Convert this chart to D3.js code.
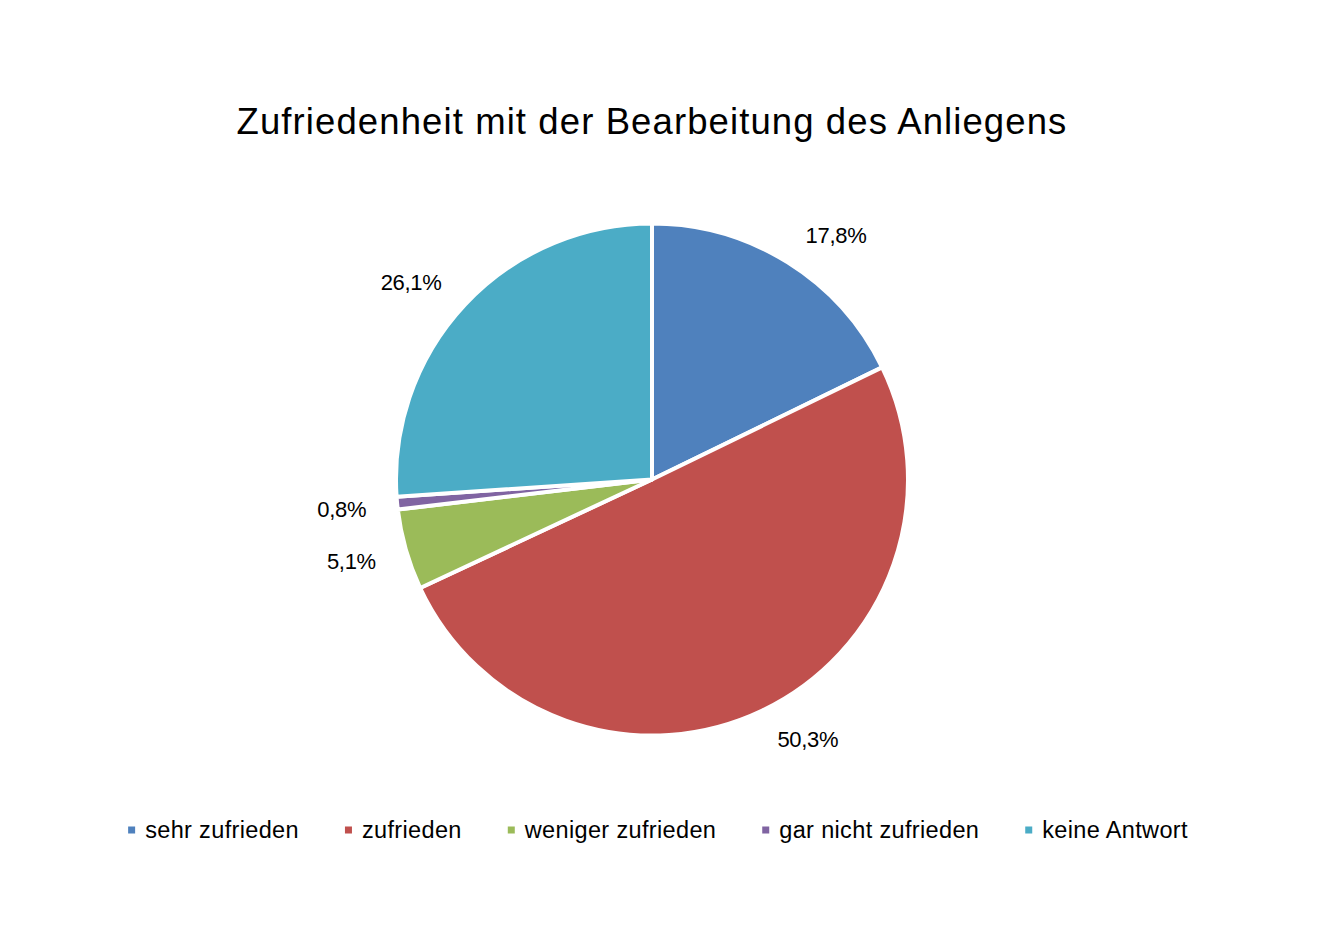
<!DOCTYPE html>
<html>
<head>
<meta charset="utf-8">
<script src="https://cdn.jsdelivr.net/npm/d3@7"></script>
<style>
  body { margin: 0; background: #fff; }
  text { font-family: "Liberation Sans", Arial, sans-serif; fill: #000; }
</style>
</head>
<body>
<div id="chart"></div>
<script>
// chart data
var categories = ['sehr zufrieden', 'zufrieden', 'weniger zufrieden', 'gar nicht zufrieden', 'keine Antwort'];
var shares     = [17.8, 50.3, 5.1, 0.8, 26.1];
var labels     = ['17,8%', '50,3%', '5,1%', '0,8%', '26,1%'];
var colors     = ['#4F81BD', '#C0504D', '#9BBB59', '#8064A2', '#4BACC6'];
var title      = 'Zufriedenheit mit der Bearbeitung des Anliegens';

function generate_pie() {
	var width = 1339, height = 935;
	var cx = 652, cy = 479.5, radius = 256;
	var labelRadius = 284;

	var svg = d3.select('#chart').append('svg')
		.attr('width', width)
		.attr('height', height);

	svg.append('text')
		.attr('x', 652)
		.attr('y', 134)
		.attr('text-anchor', 'middle')
		.style('font-size', '36.5px')
		.style('letter-spacing', '1.1px')
		.text(title);

	var rows = categories.map(function(c, i) {
		return { name: c, value: shares[i], label: labels[i], color: colors[i] };
	});

	var pie = d3.pie()
		.sort(null)
		.value(function(d) { return d.value; });

	var arc = d3.arc().innerRadius(0).outerRadius(radius);
	var labelArc = d3.arc().innerRadius(labelRadius).outerRadius(labelRadius);

	var g = svg.append('g').attr('transform', 'translate(' + cx + ',' + cy + ')');

	g.selectAll('.slice')
		.data(pie(rows))
		.enter()
		.append('path')
			.attr('class', 'slice')
			.attr('d', arc)
			.style('fill', function(d) { return d.data.color; })
			.style('stroke', '#fff')
			.style('stroke-width', '4px')
			.style('stroke-linejoin', 'round');

	// outside-end labels: the box corner nearest the pie sits near the label circle
	g.selectAll('.lbl')
		.data(pie(rows))
		.enter()
		.append('text')
			.attr('class', 'lbl')
			.attr('text-anchor', 'middle')
			.attr('dy', '0.36em')
			.style('font-size', '22px')
			.style('letter-spacing', '-0.3px')
			.text(function(d) { return d.data.label; })
			.attr('transform', function(d) {
				var p = labelArc.centroid(d);
				var bb = this.getBBox();
				var mid = (d.startAngle + d.endAngle) / 2;
				var sx = Math.sin(mid), sy = -Math.cos(mid);
				var ox = Math.abs(sx) < 0.05 ? 0 : (sx > 0 ? 1 : -1) * (bb.width / 2 + 3);
				var oy = Math.abs(sy) < 0.05 ? 0 : (sy > 0 ? 1 : -1) * bb.height / 2 * 0.3;
				return 'translate(' + (p[0] + ox) + ',' + (p[1] + oy) + ')';
			});

	// legend, laid out from measured text widths
	var legend = svg.append('g');
	var items = legend.selectAll('.item')
		.data(rows)
		.enter()
		.append('g')
			.attr('class', 'item');

	items.append('rect')
		.attr('width', 7)
		.attr('height', 7)
		.attr('y', -3.5)
		.style('fill', function(d) { return d.color; });

	items.append('text')
		.attr('x', 17)
		.attr('dy', '0.36em')
		.style('font-size', '23.5px')
		.style('letter-spacing', '0.35px')
		.text(function(d) { return d.name; });

	var x = 0;
	items.each(function() {
		var w = d3.select(this).select('text').node().getComputedTextLength() + 17;
		d3.select(this).attr('transform', 'translate(' + x + ',0)');
		x += w + 46;
	});
	var total = x - 46;
	legend.attr('transform', 'translate(' + (658 - total / 2) + ',830)');
} // generate_pie

generate_pie();
</script>
</body>
</html>
